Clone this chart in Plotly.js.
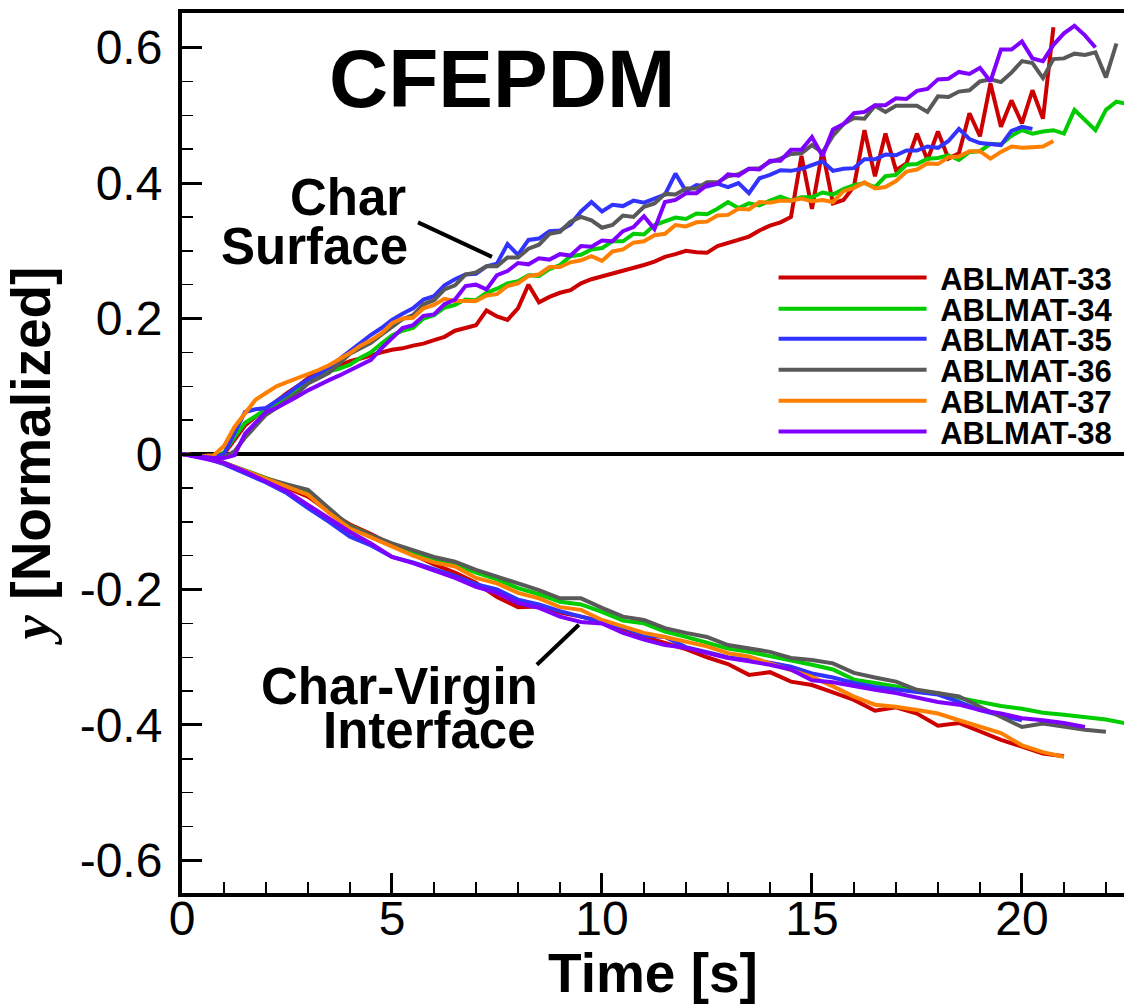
<!DOCTYPE html>
<html>
<head>
<meta charset="utf-8">
<script src="https://cdn.plot.ly/plotly-3.0.1.min.js"></script>
<style>html,body{margin:0;padding:0;background:#fff;}#chart{width:1124px;height:1004px;}</style>
</head>
<body>
<div id="chart"></div>
<script>
// ---------- DATA ----------
const SAMPLES = ['ABLMAT-33','ABLMAT-34','ABLMAT-35','ABLMAT-36','ABLMAT-37','ABLMAT-38'];
const COLORS  = ['#CC0000','#00CC00','#3333FF','#595959','#FF8000','#8000FF'];

// Char surface position (normalized), sampled every 0.25 s from t = 0
const DT_SURF = 0.25;
const SURF_33 = [0,-0.002,-0.004,-0.005,0.0,0.022,0.042,0.055,0.066,0.078,
  0.09,0.1,0.112,0.122,0.124,0.13,0.137,0.141,0.146,0.15,
  0.154,0.156,0.16,0.163,0.168,0.173,0.182,0.186,0.19,0.212,
  0.203,0.198,0.215,0.25,0.224,0.232,0.238,0.242,0.252,0.258,
  0.262,0.266,0.271,0.275,0.279,0.284,0.291,0.295,0.3,0.298,
  0.297,0.307,0.312,0.316,0.321,0.33,0.337,0.342,0.35,0.44,
  0.362,0.448,0.37,0.375,0.395,0.478,0.41,0.473,0.419,0.429,
  0.473,0.434,0.476,0.436,0.444,0.503,0.469,0.547,0.483,0.522,
  0.488,0.537,0.495,0.63];
const SURF_34 = [0,-0.002,-0.004,-0.004,0.002,0.025,0.046,0.056,0.066,0.074,
  0.085,0.094,0.105,0.114,0.122,0.126,0.132,0.142,0.15,0.163,
  0.175,0.182,0.186,0.2,0.205,0.216,0.22,0.228,0.227,0.238,
  0.244,0.252,0.255,0.264,0.263,0.273,0.279,0.292,0.294,0.302,
  0.304,0.314,0.314,0.325,0.324,0.338,0.343,0.349,0.347,0.355,
  0.354,0.362,0.372,0.363,0.37,0.367,0.374,0.38,0.374,0.379,
  0.379,0.386,0.383,0.391,0.397,0.4,0.394,0.41,0.412,0.427,
  0.428,0.436,0.437,0.441,0.434,0.446,0.447,0.458,0.457,0.47,
  0.478,0.473,0.476,0.478,0.473,0.508,0.493,0.478,0.508,0.52,
  0.517];
const SURF_35 = [0,-0.002,-0.004,-0.005,0.0,0.03,0.062,0.066,0.068,0.078,
  0.088,0.1,0.11,0.118,0.128,0.14,0.152,0.165,0.176,0.186,
  0.198,0.207,0.215,0.228,0.233,0.249,0.258,0.265,0.266,0.277,
  0.281,0.31,0.294,0.316,0.318,0.329,0.33,0.339,0.358,0.372,
  0.358,0.368,0.366,0.374,0.371,0.377,0.383,0.414,0.388,0.397,
  0.395,0.399,0.394,0.4,0.385,0.407,0.412,0.419,0.418,0.421,
  0.427,0.432,0.418,0.421,0.422,0.435,0.435,0.442,0.441,0.448,
  0.448,0.454,0.452,0.462,0.48,0.465,0.459,0.457,0.456,0.477,
  0.483,0.48];
const SURF_36 = [0,-0.002,-0.004,-0.006,-0.005,0.004,0.024,0.042,0.058,0.068,
  0.08,0.09,0.104,0.112,0.12,0.134,0.148,0.156,0.164,0.176,
  0.187,0.199,0.205,0.221,0.227,0.243,0.249,0.265,0.268,0.277,
  0.277,0.29,0.29,0.303,0.309,0.325,0.328,0.343,0.35,0.345,
  0.334,0.338,0.352,0.35,0.365,0.37,0.384,0.383,0.392,0.392,
  0.401,0.401,0.41,0.413,0.421,0.422,0.431,0.436,0.443,0.444,
  0.456,0.445,0.47,0.487,0.496,0.495,0.514,0.505,0.514,0.514,
  0.514,0.505,0.528,0.527,0.535,0.537,0.55,0.553,0.549,0.563,
  0.58,0.577,0.555,0.583,0.584,0.591,0.589,0.593,0.556,0.606];
const SURF_37 = [0,-0.002,-0.003,-0.002,0.012,0.04,0.06,0.08,0.09,0.1,
  0.106,0.112,0.117,0.124,0.131,0.14,0.149,0.16,0.168,0.178,
  0.193,0.2,0.201,0.215,0.22,0.229,0.226,0.226,0.226,0.234,
  0.236,0.248,0.252,0.263,0.265,0.276,0.276,0.283,0.286,0.292,
  0.285,0.299,0.302,0.312,0.314,0.323,0.325,0.338,0.336,0.342,
  0.343,0.352,0.353,0.362,0.361,0.372,0.371,0.374,0.374,0.377,
  0.373,0.375,0.372,0.388,0.393,0.401,0.392,0.394,0.403,0.417,
  0.42,0.429,0.428,0.438,0.439,0.447,0.447,0.436,0.446,0.454,
  0.452,0.453,0.454,0.462];
const SURF_38 = [0,-0.002,-0.004,-0.006,-0.006,-0.002,0.03,0.046,0.062,0.068,
  0.076,0.085,0.094,0.102,0.109,0.116,0.124,0.132,0.139,0.156,
  0.172,0.186,0.19,0.204,0.206,0.221,0.228,0.248,0.25,0.243,
  0.264,0.27,0.282,0.28,0.289,0.287,0.295,0.293,0.307,0.306,
  0.315,0.314,0.329,0.335,0.351,0.332,0.372,0.375,0.385,0.385,
  0.397,0.399,0.413,0.411,0.421,0.42,0.433,0.433,0.449,0.449,
  0.468,0.44,0.479,0.487,0.503,0.505,0.515,0.515,0.525,0.524,
  0.536,0.539,0.553,0.554,0.564,0.561,0.57,0.55,0.597,0.597,
  0.609,0.584,0.58,0.604,0.621,0.632,0.618,0.6];

// Char-virgin interface position (normalized), sampled every 0.5 s from t = 0
const DT_INTF = 0.5;
const INTF_33 = [0,-0.004,-0.013,-0.025,-0.037,-0.05,-0.063,-0.085,-0.104,-0.118,
  -0.134,-0.148,-0.163,-0.175,-0.19,-0.211,-0.226,-0.225,-0.234,-0.24,
  -0.247,-0.258,-0.27,-0.279,-0.288,-0.3,-0.31,-0.326,-0.322,-0.336,
  -0.341,-0.352,-0.363,-0.379,-0.374,-0.383,-0.401,-0.397,-0.41,-0.422,
  -0.432,-0.442,-0.446];
const INTF_34 = [0,-0.005,-0.013,-0.024,-0.036,-0.047,-0.058,-0.083,-0.106,-0.12,
  -0.134,-0.146,-0.155,-0.163,-0.175,-0.185,-0.198,-0.207,-0.218,-0.222,
  -0.233,-0.246,-0.25,-0.262,-0.27,-0.279,-0.287,-0.292,-0.298,-0.304,
  -0.311,-0.318,-0.333,-0.338,-0.343,-0.35,-0.353,-0.36,-0.366,-0.372,
  -0.376,-0.382,-0.385,-0.388,-0.392,-0.398];
const INTF_35 = [0,-0.005,-0.015,-0.028,-0.042,-0.058,-0.08,-0.1,-0.122,-0.135,
  -0.152,-0.16,-0.17,-0.18,-0.192,-0.2,-0.215,-0.222,-0.232,-0.24,
  -0.248,-0.256,-0.268,-0.27,-0.285,-0.292,-0.3,-0.304,-0.308,-0.314,
  -0.324,-0.33,-0.338,-0.344,-0.348,-0.352,-0.355,-0.366,-0.378,-0.386,
  -0.393];
const INTF_36 = [0,-0.004,-0.013,-0.024,-0.036,-0.045,-0.053,-0.08,-0.107,-0.12,
  -0.132,-0.142,-0.152,-0.159,-0.171,-0.181,-0.191,-0.201,-0.213,-0.213,
  -0.227,-0.24,-0.245,-0.257,-0.264,-0.27,-0.282,-0.287,-0.292,-0.301,
  -0.304,-0.309,-0.323,-0.33,-0.336,-0.348,-0.353,-0.358,-0.373,-0.388,
  -0.403,-0.398,-0.403,-0.407,-0.41];
const INTF_37 = [0,-0.005,-0.013,-0.025,-0.036,-0.048,-0.06,-0.087,-0.11,-0.123,
  -0.137,-0.15,-0.16,-0.166,-0.183,-0.191,-0.205,-0.213,-0.226,-0.23,
  -0.245,-0.255,-0.264,-0.27,-0.277,-0.284,-0.294,-0.299,-0.309,-0.319,
  -0.329,-0.343,-0.358,-0.37,-0.373,-0.378,-0.383,-0.393,-0.402,-0.412,
  -0.43,-0.44,-0.447];
const INTF_38 = [0,-0.006,-0.013,-0.026,-0.04,-0.055,-0.075,-0.095,-0.115,-0.132,
  -0.152,-0.161,-0.172,-0.183,-0.196,-0.205,-0.22,-0.227,-0.24,-0.248,
  -0.25,-0.264,-0.274,-0.282,-0.286,-0.294,-0.301,-0.306,-0.311,-0.318,
  -0.334,-0.337,-0.343,-0.348,-0.353,-0.36,-0.366,-0.37,-0.378,-0.383,
  -0.39,-0.393,-0.397,-0.403];

const SURF = [SURF_33, SURF_34, SURF_35, SURF_36, SURF_37, SURF_38];
const INTF = [INTF_33, INTF_34, INTF_35, INTF_36, INTF_37, INTF_38];

// Axis ticks
const Y_TICKS = [-0.6,-0.4,-0.2,0,0.2,0.4,0.6];
const Y_TICK_TEXT = ['-0.6','-0.4','-0.2','0','0.2','0.4','0.6'];
const X_RANGE = [0, 22.43];
const Y_RANGE = [-0.648, 0.651];

// Label pointer lines (data coordinates)
const SURF_PTR_T = [5.62, 7.38], SURF_PTR_Y = [0.342, 0.291];
const INTF_PTR_T = [8.45, 9.45], INTF_PTR_Y = [-0.311, -0.252];

// ---------- BUILD ----------
const times = (arr, dt) => arr.map((_, i) => +(i * dt).toFixed(3));
const traces = [];
const legendY = [0.6989, 0.6636, 0.6295, 0.5943, 0.5591, 0.5239];
const legendKeys = ['legend','legend2','legend3','legend4','legend5','legend6'];
SAMPLES.forEach((name, k) => {
  traces.push({x: times(SURF[k], DT_SURF), y: SURF[k], type:'scatter', mode:'lines', name: '\u00A0' + name,
    line:{color: COLORS[k], width:4}, legend: legendKeys[k], legendgroup: name, showlegend: true, hoverinfo:'skip'});
  traces.push({x: times(INTF[k], DT_INTF), y: INTF[k], type:'scatter', mode:'lines', name: name,
    line:{color: COLORS[k], width:4}, legend: legendKeys[k], legendgroup: name, showlegend: false, hoverinfo:'skip'});
});
// carrier for the tick-label axis (draws nothing)
traces.push({x: [], y: [], xaxis:'x2', yaxis:'y', type:'scatter', mode:'lines', showlegend:false, hoverinfo:'skip'});

const FONT = 'Liberation Sans, Arial, sans-serif';
const labelFont = {family:FONT, size:51, weight:'bold', color:'#000'};
const layout = {
  width:1124, height:1004,
  margin:{l:182, r:0, t:13, b:111, pad:0},
  paper_bgcolor:'#ffffff', plot_bgcolor:'#ffffff',
  showlegend:true,
  xaxis:{
    range: X_RANGE, tickmode:'linear', tick0:0, dtick:5,
    ticks:'inside', ticklen:20, tickwidth:3, tickcolor:'#000',
    minor:{tickmode:'linear', tick0:0, dtick:1, ticks:'inside', ticklen:11, tickwidth:1.5, tickcolor:'#000', showgrid:false},
    showgrid:false, zeroline:false, showline:true, linewidth:4, linecolor:'#000', mirror:true,
    showticklabels:false,
    automargin:false, fixedrange:true
  },
  xaxis2:{
    range: X_RANGE, overlaying:'x', anchor:'free', position:0.008, side:'bottom',
    tickmode:'linear', tick0:0, dtick:5, ticks:'', showgrid:false, zeroline:false, showline:false,
    tickfont:{family:FONT, size:48, color:'#000'},
    title:{text:'Time [s]', font:{family:FONT, size:55, weight:'bold', color:'#000'}, standoff:11},
    automargin:false, fixedrange:true
  },
  yaxis:{
    range: Y_RANGE, tickmode:'array', tickvals: Y_TICKS, ticktext: Y_TICK_TEXT,
    ticks:'inside', ticklen:20, tickwidth:3, tickcolor:'#000',
    minor:{tickmode:'linear', tick0:0, dtick:0.05, ticks:'inside', ticklen:11, tickwidth:1.5, tickcolor:'#000', showgrid:false},
    showgrid:false, zeroline:true, zerolinewidth:4, zerolinecolor:'#000',
    showline:true, linewidth:4, linecolor:'#000', mirror:false,
    tickfont:{family:FONT, size:48, color:'#000'},
    ticklabelstandoff:6,
    title:{text:'<span style="font-family:Liberation Serif;font-style:italic">y</span> [Normalized]',
      font:{family:FONT, size:55, weight:'bold', color:'#000'}, standoff:16},
    automargin:false, fixedrange:true
  },
  annotations:[
    {text:'CFEPDM', xref:'paper', yref:'paper', x:0.3397, y:0.926, xanchor:'center', yanchor:'middle',
      showarrow:false, font:{family:FONT, size:82, weight:'bold', color:'#000'}},
    {text:'Char', xref:'paper', yref:'paper', x:0.2399, y:0.7909, xanchor:'right', yanchor:'middle', showarrow:false, font:labelFont},
    {text:'Surface', xref:'paper', yref:'paper', x:0.2420, y:0.7352, xanchor:'right', yanchor:'middle', showarrow:false, font:labelFont},
    {text:'Char-Virgin', xref:'paper', yref:'paper', x:0.3800, y:0.2352, xanchor:'right', yanchor:'middle', showarrow:false, font:labelFont},
    {text:'Interface', xref:'paper', yref:'paper', x:0.3780, y:0.1841, xanchor:'right', yanchor:'middle', showarrow:false, font:labelFont}
  ],
  shapes:[
    {type:'line', xref:'x', yref:'y', x0:SURF_PTR_T[0], y0:SURF_PTR_Y[0], x1:SURF_PTR_T[1], y1:SURF_PTR_Y[1], line:{color:'#000', width:4}},
    {type:'line', xref:'x', yref:'y', x0:INTF_PTR_T[0], y0:INTF_PTR_Y[0], x1:INTF_PTR_T[1], y1:INTF_PTR_Y[1], line:{color:'#000', width:4}}
  ]
};
legendKeys.forEach((key, k) => {
  layout[key] = {x:0.628, y:legendY[k], xanchor:'left', yanchor:'middle', bgcolor:'rgba(0,0,0,0)', borderwidth:0,
    font:{family:FONT, size:31, weight:'bold', color:'#000'}, itemwidth:148, tracegroupgap:0};
});

Plotly.newPlot('chart', traces, layout, {staticPlot:true, displayModeBar:false});
</script>
</body>
</html>
